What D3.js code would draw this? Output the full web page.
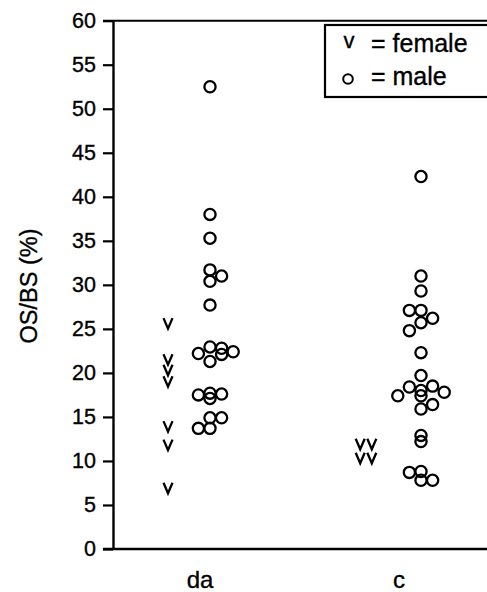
<!DOCTYPE html>
<html>
<head>
<meta charset="utf-8">
<script src="https://cdn.jsdelivr.net/npm/d3@7"></script>
<style>
  html, body { margin: 0; padding: 0; background: #fff; }
  svg { display: block; font-family: "Liberation Sans", Arial, sans-serif; }
  svg text { stroke: #000; stroke-width: 0.35px; fill: #000; }
</style>
</head>
<body>
<div id="chart"></div>
<script>
// OS/BS (%) by group, female (v) and male (o)
const groups = ["da", "c"];
const yTicks = [0, 5, 10, 15, 20, 25, 30, 35, 40, 45, 50, 55, 60];

// values; slot = side-by-side column used to dodge overlaps
const daFemale = [25.6, 21.5, 20.3, 19.0, 13.9, 11.8, 6.9];
const daFemaleSlot = [0, 0, 0, 0, 0, 0, 0];
const daMale = [52.5, 38.0, 35.3, 31.7, 31.0, 30.4, 27.7,
  22.95, 22.8, 22.4, 22.2, 22.1, 21.3,
  17.7, 17.6, 17.5, 17.1,
  14.9, 14.9, 13.7, 13.7];
const daMaleSlot = [0, 0, 0, 0, 1, 0, 0,
  0, 1, 2, -1, 1, 0,
  0, 1, -1, 0,
  0, 1, -1, 0];
const cFemale = [11.9, 11.9, 10.3, 10.3];
const cFemaleSlot = [-0.5, 0.5, -0.5, 0.5];
const cMale = [42.3, 31.0, 29.3, 27.1, 27.1, 26.2, 25.7, 24.8, 22.3, 19.7,
  18.4, 18.5, 17.4, 17.8, 18.0, 17.4, 16.4, 15.9, 12.9, 12.2,
  8.7, 8.8, 7.8, 7.8];
const cMaleSlot = [0, 0, 0, -1, 0, 1, 0, -1, 0, 0,
  -1, 1, -2, 2, 0, 0, 1, 0, 0, 0,
  -1, 0, 0, 1];

const legendLabels = ["= female", "= male"];

// ----- layout -----
const W = 487, H = 592;
const M = { top: 20.7, left: 113, bottom: 43 };
const plotRight = 495;              // frame runs off the right edge

const svg = d3.select("#chart").append("svg")
  .attr("width", W).attr("height", H);

const y = d3.scaleLinear().domain([0, 60]).range([H - M.bottom, M.top]);
const xLabel = d3.scalePoint().domain(groups).range([200, 399]);
const xMale = d3.scalePoint().domain(groups).range([210, 421]);
const xFemale = d3.scalePoint().domain(groups).range([168, 366]);
const slot = d3.scaleLinear().domain([0, 1]).range([0, 11.6]);

// frame: top and bottom lines
svg.append("line")
  .attr("x1", M.left - 10).attr("x2", plotRight)
  .attr("y1", y(60)).attr("y2", y(60))
  .attr("stroke", "#000").attr("stroke-width", 2);
svg.append("line")
  .attr("x1", M.left - 10).attr("x2", plotRight)
  .attr("y1", y(0)).attr("y2", y(0))
  .attr("stroke", "#000").attr("stroke-width", 2.4);

// y axis
const yAxisG = svg.append("g")
  .attr("transform", `translate(${M.left},0)`)
  .call(d3.axisLeft(y).tickValues(yTicks).tickSize(10).tickPadding(7).tickSizeOuter(0));
yAxisG.select(".domain").attr("stroke", "#000").attr("stroke-width", 2.4);
yAxisG.selectAll(".tick line").attr("stroke", "#000").attr("stroke-width", 2.2);
yAxisG.selectAll(".tick text")
  .attr("fill", "#000")
  .attr("font-size", 21.5)
  .attr("font-family", "Liberation Sans, Arial, sans-serif");

// y axis label
svg.append("text")
  .attr("transform", `translate(37, 286) rotate(-90)`)
  .attr("text-anchor", "middle")
  .attr("font-size", 23.5)
  .text("OS/BS (%)");

// category labels
svg.selectAll(".cat").data(groups).join("text")
  .attr("class", "cat")
  .attr("x", d => xLabel(d))
  .attr("y", 588)
  .attr("text-anchor", "middle")
  .attr("font-size", 24)
  .text(d => d);

// marks
const vPath = "M-4.5,-5.5L0,5L4.5,-5.5";
function drawFemale(cat, vals, slots) {
  svg.append("g").selectAll("path").data(vals).join("path")
    .attr("d", vPath)
    .attr("transform", (d, i) => `translate(${xFemale(cat) + slot(slots[i])},${y(d)})`)
    .attr("fill", "none").attr("stroke", "#000").attr("stroke-width", 2.3);
}
function drawMale(cat, vals, slots) {
  svg.append("g").selectAll("circle").data(vals).join("circle")
    .attr("cx", (d, i) => xMale(cat) + slot(slots[i]))
    .attr("cy", d => y(d))
    .attr("r", 5.6)
    .attr("fill", "none").attr("stroke", "#000").attr("stroke-width", 2.3);
}
drawFemale("da", daFemale, daFemaleSlot);
drawMale("da", daMale, daMaleSlot);
drawFemale("c", cFemale, cFemaleSlot);
drawMale("c", cMale, cMaleSlot);

// legend
const lg = svg.append("g");
lg.append("rect")
  .attr("x", 325).attr("y", 25)
  .attr("width", 175).attr("height", 72)
  .attr("fill", "#fff").attr("stroke", "#000").attr("stroke-width", 2.2);
lg.append("text").attr("x", 349).attr("y", 48).attr("text-anchor", "middle")
  .attr("font-size", 22).text("v");
lg.append("circle").attr("cx", 348).attr("cy", 79).attr("r", 4.8)
  .attr("fill", "none").attr("stroke", "#000").attr("stroke-width", 2);
lg.selectAll(".lt").data(legendLabels).join("text")
  .attr("class", "lt")
  .attr("x", 371)
  .attr("y", (d, i) => 52 + i * 33)
  .attr("font-size", 25)
  .text(d => d);
</script>
</body>
</html>
